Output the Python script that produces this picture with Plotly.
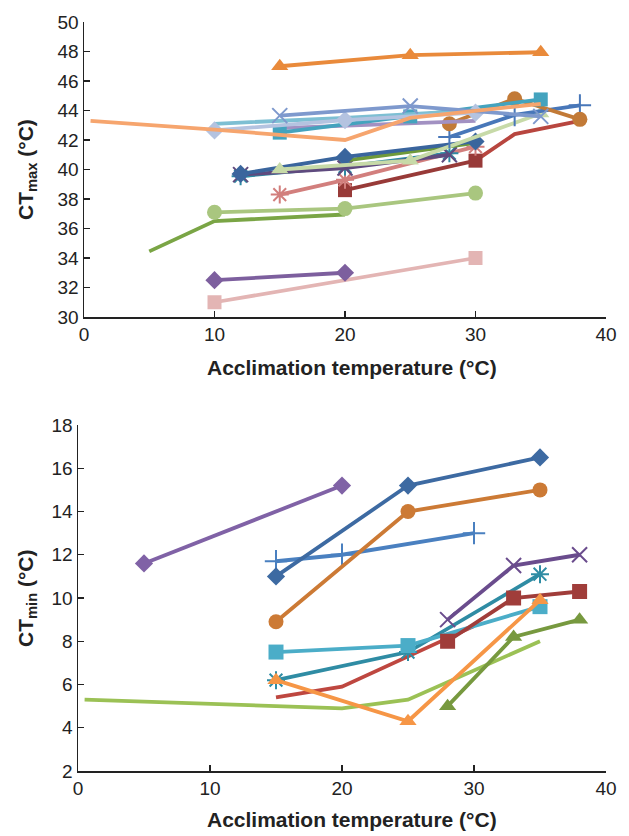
import plotly.graph_objects as go

# ---------------- CTmax (top panel) data ----------------
tmax_orange_tri_x = [15, 25, 35]
tmax_orange_tri_y = [47.0, 47.75, 47.95]
tmax_salmon_x = [0.5, 10, 20, 25, 35]
tmax_salmon_y = [43.3, 42.7, 42.0, 43.5, 44.45]
tmax_periwinkle_x = [15, 25, 35]
tmax_periwinkle_y = [43.65, 44.3, 43.6]
tmax_lightteal_x = [10, 20, 30]
tmax_lightteal_y = [43.1, 43.5, 44.0]
tmax_teal_sq_x = [15, 25, 35]
tmax_teal_sq_y = [42.5, 43.6, 44.75]
tmax_lavender_x = [15, 30]
tmax_lavender_y = [42.8, 43.3]
tmax_steel_dia_x = [10, 20, 30]
tmax_steel_dia_y = [42.65, 43.35, 43.85]
tmax_brown_circ_x = [28, 33, 38]
tmax_brown_circ_y = [43.1, 44.8, 43.4]
tmax_blue_plus_x = [28, 33, 38]
tmax_blue_plus_y = [42.2, 43.7, 44.35]
tmax_palegreen_tri_x = [15, 25, 35]
tmax_palegreen_tri_y = [40.0, 40.6, 43.8]
tmax_darkblue_dia_x = [12, 20, 30]
tmax_darkblue_dia_y = [39.7, 40.85, 41.9]
tmax_olive_x = [20, 30]
tmax_olive_y = [40.6, 41.8]
tmax_purple_x_x = [12, 20, 28]
tmax_purple_x_y = [39.65, 40.1, 41.0]
tmax_teal_ast_x = [12, 20, 28]
tmax_teal_ast_y = [39.55, 40.2, 41.1]
tmax_rose_ast_x = [15, 20, 30]
tmax_rose_ast_y = [38.3, 39.3, 41.55]
tmax_darkred_sq_x = [20, 30]
tmax_darkred_sq_y = [38.6, 40.6]
tmax_red_x = [30, 33, 38]
tmax_red_y = [40.6, 42.4, 43.3]
tmax_lightgreen_circ_x = [10, 20, 30]
tmax_lightgreen_circ_y = [37.1, 37.35, 38.4]
tmax_green_x = [5, 10, 20]
tmax_green_y = [34.45, 36.5, 36.95]
tmax_purple_dia_x = [10, 20]
tmax_purple_dia_y = [32.5, 33.0]
tmax_pink_sq_x = [10, 30]
tmax_pink_sq_y = [31.0, 34.0]

# ---------------- CTmin (bottom panel) data ----------------
tmin_purple_dia_x = [5, 20]
tmin_purple_dia_y = [11.6, 15.2]
tmin_darkblue_dia_x = [15, 25, 35]
tmin_darkblue_dia_y = [11.0, 15.2, 16.5]
tmin_brown_circ_x = [15, 25, 35]
tmin_brown_circ_y = [8.9, 14.0, 15.0]
tmin_blue_plus_x = [15, 20, 30]
tmin_blue_plus_y = [11.7, 12.0, 13.0]
tmin_purple_x_x = [28, 33, 38]
tmin_purple_x_y = [9.0, 11.5, 12.0]
tmin_teal_ast_x = [15, 25, 35]
tmin_teal_ast_y = [6.2, 7.5, 11.1]
tmin_lightblue_sq_x = [15, 25, 35]
tmin_lightblue_sq_y = [7.5, 7.8, 9.6]
tmin_red_x = [15, 20, 30]
tmin_red_y = [5.4, 5.9, 8.7]
tmin_darkred_sq_x = [28, 33, 38]
tmin_darkred_sq_y = [8.0, 10.0, 10.3]
tmin_orange_tri_x = [15, 25, 35]
tmin_orange_tri_y = [6.2, 4.3, 9.9]
tmin_olive_tri_x = [28, 33, 38]
tmin_olive_tri_y = [5.0, 8.2, 9.0]
tmin_lightgreen_x = [0.5, 20, 25, 35]
tmin_lightgreen_y = [5.3, 4.9, 5.3, 8.0]

# tick values
tmax_yticks = [30, 32, 34, 36, 38, 40, 42, 44, 46, 48, 50]
tmin_yticks = [2, 4, 6, 8, 10, 12, 14, 16, 18]
x_ticks = [0, 10, 20, 30, 40]

# full window size; page body margin is reset to 0 after plotting
W, H = 629, 836
LW = 3.8

fig = go.Figure()


def add(x, y, color, symbol=None, size=12, axis=1, mlw=2.0):
    xa = 'x' if axis == 1 else 'x2'
    ya = 'y' if axis == 1 else 'y2'
    if symbol is None:
        fig.add_trace(go.Scatter(x=x, y=y, mode='lines', xaxis=xa, yaxis=ya,
                                 line=dict(color=color, width=LW),
                                 showlegend=False, hoverinfo='skip'))
    else:
        open_sym = symbol.endswith('open')
        marker = dict(symbol=symbol, size=size, color=color,
                      line=dict(width=mlw if open_sym else 0, color=color))
        fig.add_trace(go.Scatter(x=x, y=y, mode='lines+markers', xaxis=xa, yaxis=ya,
                                 line=dict(color=color, width=LW), marker=marker,
                                 showlegend=False, hoverinfo='skip'))


# ---- top traces (back to front) ----
add(tmax_pink_sq_x, tmax_pink_sq_y, '#E3B5B4', 'square', 14)
add(tmax_purple_dia_x, tmax_purple_dia_y, '#7D5F9E', 'diamond', 14)
add(tmax_green_x, tmax_green_y, '#7AA545')
add(tmax_lightgreen_circ_x, tmax_lightgreen_circ_y, '#A9C67F', 'circle', 15)
add(tmax_red_x, tmax_red_y, '#B8463F')
add(tmax_darkred_sq_x, tmax_darkred_sq_y, '#983A38', 'square', 14)
add(tmax_rose_ast_x, tmax_rose_ast_y, '#D27F7D', 'asterisk-open', 15)
add(tmax_teal_ast_x, tmax_teal_ast_y, '#2E8AA3', 'asterisk-open', 15)
add(tmax_purple_x_x, tmax_purple_x_y, '#5F4A7E', 'x-thin-open', 15)
add(tmax_olive_x, tmax_olive_y, '#6F9A3A')
add(tmax_darkblue_dia_x, tmax_darkblue_dia_y, '#3A659D', 'diamond', 14)
add(tmax_palegreen_tri_x, tmax_palegreen_tri_y, '#C7DAA8', 'triangle-up', 15)
add(tmax_blue_plus_x, tmax_blue_plus_y, '#4877B9', 'cross-thin-open', 16)
add(tmax_brown_circ_x, tmax_brown_circ_y, '#C27A37', 'circle', 15)
add(tmax_lavender_x, tmax_lavender_y, '#A291C2')
add(tmax_teal_sq_x, tmax_teal_sq_y, '#44A3BE', 'square', 14)
add(tmax_lightteal_x, tmax_lightteal_y, '#7DBFD3')
add(tmax_steel_dia_x, tmax_steel_dia_y, '#B4C3E0', 'diamond', 14)
add(tmax_periwinkle_x, tmax_periwinkle_y, '#7E99CD', 'x-thin-open', 15)
add(tmax_salmon_x, tmax_salmon_y, '#F6A56E')
add(tmax_orange_tri_x, tmax_orange_tri_y, '#E98A3B', 'triangle-up', 15)

# ---- bottom traces ----
add(tmin_lightgreen_x, tmin_lightgreen_y, '#9BC155', axis=2)
add(tmin_red_x, tmin_red_y, '#BE4740', axis=2)
add(tmin_olive_tri_x, tmin_olive_tri_y, '#77993F', 'triangle-up', 15, axis=2)
add(tmin_teal_ast_x, tmin_teal_ast_y, '#2F8CA4', 'asterisk-open', 15, axis=2)
add(tmin_lightblue_sq_x, tmin_lightblue_sq_y, '#4BADC8', 'square', 15, axis=2)
add(tmin_darkred_sq_x, tmin_darkred_sq_y, '#A03D3A', 'square', 15, axis=2)
add(tmin_orange_tri_x, tmin_orange_tri_y, '#F69646', 'triangle-up', 15, axis=2)
add(tmin_purple_x_x, tmin_purple_x_y, '#6A4C8D', 'x-thin-open', 15, axis=2)
add(tmin_blue_plus_x, tmin_blue_plus_y, '#4A80C0', 'cross-thin-open', 16, axis=2)
add(tmin_brown_circ_x, tmin_brown_circ_y, '#CC7A35', 'circle', 15, axis=2)
add(tmin_darkblue_dia_x, tmin_darkblue_dia_y, '#3D6AA2', 'diamond', 14, axis=2)
add(tmin_purple_dia_x, tmin_purple_dia_y, '#8062A6', 'diamond', 14, axis=2)

font_family = 'Liberation Sans, Arial, Helvetica, sans-serif'
axis_common = dict(showgrid=False, zeroline=False, showline=True, linecolor='#222',
                   linewidth=1.5, ticks='inside', ticklen=6, tickwidth=1.3,
                   automargin=False,
                   tickcolor='#222', tickfont=dict(size=19, color='#222', family=font_family))


def fx(px):
    return px / W


def fy(py):
    return 1 - py / H


fig.update_layout(
    template='none',
    width=W, height=H,
    margin=dict(l=0, r=0, t=0, b=0, pad=0, autoexpand=False),
    paper_bgcolor='white', plot_bgcolor='white',
    font=dict(family=font_family, color='#222'),
    xaxis=dict(domain=[fx(84), fx(606)], range=[0, 40], tickvals=x_ticks,
               anchor='y', **axis_common),
    yaxis=dict(domain=[fy(317), fy(22)], range=[30, 50], tickvals=tmax_yticks,
               anchor='x', **axis_common),
    xaxis2=dict(domain=[fx(78), fx(606)], range=[0, 40], tickvals=x_ticks,
                anchor='y2', **axis_common),
    yaxis2=dict(domain=[fy(771), fy(425)], range=[2, 18], tickvals=tmin_yticks,
                anchor='x2', **axis_common),
)

title_font = dict(size=21, color='#222', family=font_family)
fig.add_annotation(text='<b>Acclimation temperature (°C)</b>', xref='paper', yref='paper',
                   x=fx(352), y=fy(367), showarrow=False, font=title_font,
                   xanchor='center', yanchor='middle')
fig.add_annotation(text='<b>Acclimation temperature (°C)</b>', xref='paper', yref='paper',
                   x=fx(352), y=fy(819), showarrow=False, font=title_font,
                   xanchor='center', yanchor='middle')
fig.add_annotation(text='<b>CT<sub>max</sub> (°C)</b>', xref='paper', yref='paper',
                   x=fx(27), y=fy(170), showarrow=False, font=title_font, textangle=-90,
                   xanchor='center', yanchor='middle')
fig.add_annotation(text='<b>CT<sub>min</sub> (°C)</b>', xref='paper', yref='paper',
                   x=fx(27), y=fy(598), showarrow=False, font=title_font, textangle=-90,
                   xanchor='center', yanchor='middle')

fig.write_html('out.html',
               config={'displayModeBar': False, 'staticPlot': True},
               post_script="document.body.style.margin='0';document.body.style.overflow='hidden';")
